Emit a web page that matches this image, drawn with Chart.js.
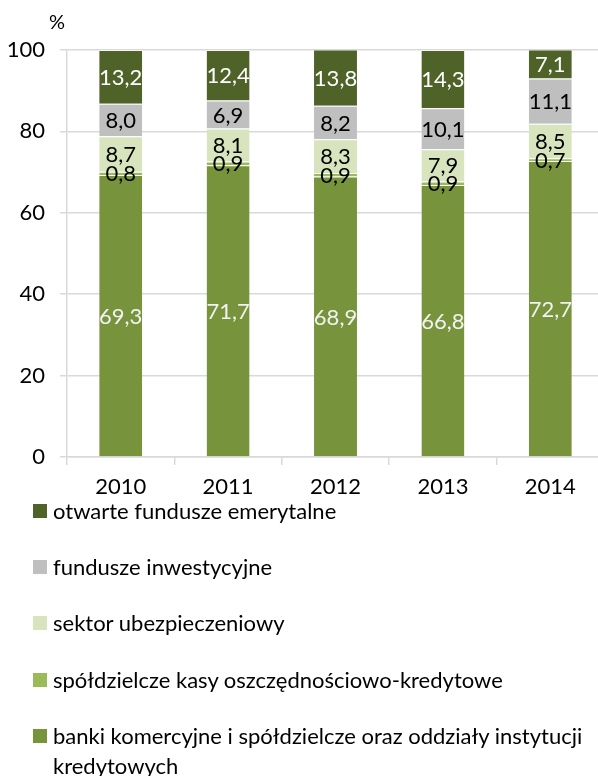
<!DOCTYPE html>
<html><head><meta charset="utf-8">
<script src="https://cdn.jsdelivr.net/npm/chart.js@4/dist/chart.umd.min.js"></script>
<style>
html,body{margin:0;padding:0;background:#fff;overflow:hidden;width:598px;height:776px;font-family:Lato,sans-serif}
#wrap{position:absolute;left:0;top:0;width:604px;height:505px}
#legend{position:absolute;left:33px;top:496px;width:565px;color:#000;font-size:22px}
.item{display:flex;align-items:flex-start;line-height:30px;margin-bottom:26.2px}
.sw{width:14px;height:14px;flex:0 0 14px;margin-top:8px;margin-right:6px}
.tx{width:545px;white-space:normal}
</style>
</head><body>
<div id="wrap"><canvas id="c"></canvas></div>
<div id="legend"></div>
<script>
const years = ['2010','2011','2012','2013','2014'];
const banki = [69.3, 71.7, 68.9, 66.8, 72.7];
const skok = [0.8, 0.9, 0.9, 0.9, 0.7];
const ubezpieczenia = [8.7, 8.1, 8.3, 7.9, 8.5];
const fundusze = [8.0, 6.9, 8.2, 10.1, 11.1];
const ofe = [13.2, 12.4, 13.8, 14.3, 7.1];
const seriesNames = [
  'banki komercyjne i spółdzielcze oraz oddziały instytucji kredytowych',
  'spółdzielcze kasy oszczędnościowo-kredytowe',
  'sektor ubezpieczeniowy',
  'fundusze inwestycyjne',
  'otwarte fundusze emerytalne'
];
const yTicks = [0, 20, 40, 60, 80, 100];

const seriesData = [banki, skok, ubezpieczenia, fundusze, ofe];
const colors = ['#77933C', '#9BBB59', '#D7E4BD', '#BFBFBF', '#4F6228'];
const labelColors = ['#F2F2F2', '#000', '#000', '#000', '#FFFFFF'];
const FONT = 'Lato, sans-serif';

const datasets = seriesData.map((d, i) => ({
  label: seriesNames[i],
  data: d,
  backgroundColor: colors[i],
  borderColor: 'rgba(255,255,255,0.45)',
  borderWidth: {top: 1, bottom: 0, left: 0, right: 0},
  borderSkipped: false,
  barPercentage: 0.4,
  categoryPercentage: 1
}));

const valueLabels = {
  id: 'valueLabels',
  afterDatasetsDraw(chart) {
    const ctx = chart.ctx;
    ctx.save();
    ctx.font = '22px ' + FONT;
    ctx.textAlign = 'center';
    ctx.textBaseline = 'middle';
    chart.data.datasets.forEach((ds, i) => {
      const meta = chart.getDatasetMeta(i);
      meta.data.forEach((el, j) => {
        const p = el.getProps(['x', 'y', 'base'], true);
        ctx.fillStyle = labelColors[i];
        ctx.fillText(ds.data[j].toFixed(1).replace('.', ','), p.x, (p.y + p.base) / 2 + 1);
      });
    });
    ctx.fillStyle = '#000';
    ctx.font = '20px ' + FONT;
    ctx.fillText('%', chart.chartArea.left - 10, chart.chartArea.top - 27);
    ctx.restore();
  }
};

new Chart(document.getElementById('c'), {
  type: 'bar',
  data: {labels: years, datasets},
  options: {
    responsive: true,
    maintainAspectRatio: false,
    animation: false,
    layout: {padding: {top: 50, left: 0, right: 0, bottom: 0}},
    plugins: {legend: {display: false}, tooltip: {enabled: false}},
    scales: {
      x: {
        stacked: true,
        grid: {offset: true, drawOnChartArea: false, drawTicks: true, tickLength: 8, color: '#D9D9D9', lineWidth: 1.5},
        border: {color: '#D9D9D9', width: 1.5},
        ticks: {color: '#000', font: {family: FONT, size: 22}, padding: 9},
        afterFit(s) { s.height = 48; }
      },
      y: {
        stacked: true,
        min: 0, max: 100,
        afterBuildTicks(s) { s.ticks = yTicks.map(v => ({value: v})); },
        grid: {color: '#D9D9D9', lineWidth: 1.5, tickLength: 7},
        border: {color: '#D9D9D9', width: 1.5},
        ticks: {color: '#000', font: {family: FONT, size: 22}, padding: 15},
        afterFit(s) { s.width = 67; }
      }
    }
  },
  plugins: [valueLabels]
});

const lg = document.getElementById('legend');
for (let i = seriesNames.length - 1; i >= 0; i--) {
  const it = document.createElement('div');
  it.className = 'item';
  const sw = document.createElement('span');
  sw.className = 'sw';
  sw.style.background = colors[i];
  const tx = document.createElement('span');
  tx.className = 'tx';
  tx.textContent = seriesNames[i];
  it.appendChild(sw); it.appendChild(tx);
  lg.appendChild(it);
}
</script>
</body></html>
